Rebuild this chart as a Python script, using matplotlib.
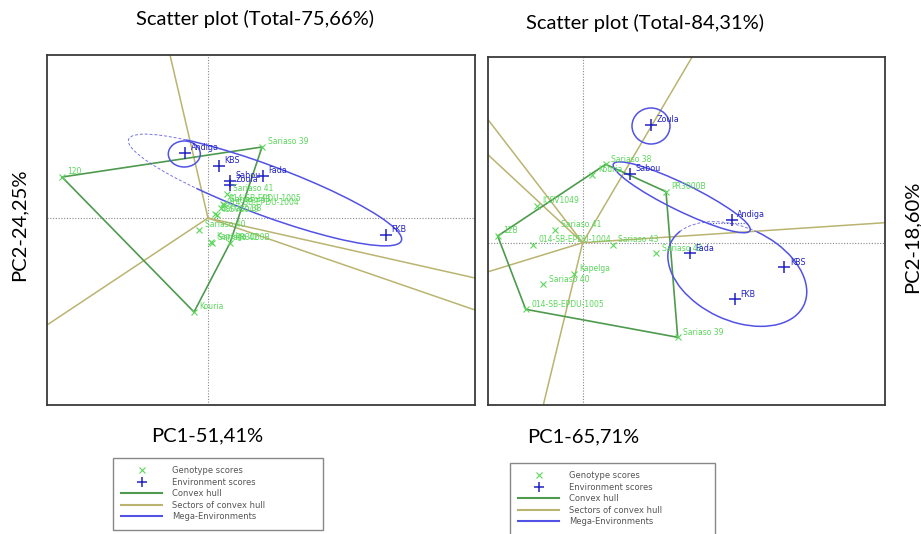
import matplotlib
matplotlib.use("Agg")
import matplotlib.pyplot as plt
from matplotlib.patches import Ellipse, Arc
from matplotlib.lines import Line2D

# Left biplot (Total 75,66%)
L_GEN_NAMES = ["120", "Sariaso 39", "PR3000B", "Kouria", "Sariaso 41", "014-SB-EPDU-1005",
               "Sariaso 43", "014-SB-EPDU-1004", "Sariaso 38", "ICSV1049", "Sariaso 40",
               "Kapelga", "Sariaso 42"]
L_GEN_PC1 = [-1.46, 0.54, 0.22, -0.14, 0.19, 0.15, 0.16, 0.13, 0.07, 0.09, -0.09, 0.03, 0.04]
L_GEN_PC2 = [0.41, 0.71, -0.25, -0.94, 0.24, 0.14, 0.13, 0.10, 0.04, 0.03, -0.12, -0.24, -0.25]
L_HULL = [0, 1, 2, 3]
L_ENV_NAMES = ["Andiga", "KBS", "Fada", "Sabou", "Zoula", "FKB"]
L_ENV_PC1 = [-0.23, 0.11, 0.55, 0.22, 0.22, 1.78]
L_ENV_PC2 = [0.65, 0.52, 0.42, 0.37, 0.33, -0.17]
L_SECTOR_ENDS = [(-0.38, 1.63), (-1.61, -1.07), (2.67, -0.60), (2.67, -0.92)]
# mega-environment ellipses: centre x, centre y, width, height, angle
L_MEGA = [(-0.237, 0.64, 0.32, 0.26, 0)]
L_MEGA_PARTIAL = [(0.57, 0.28, 2.91, 0.50, -20.4, 168, 199)]  # + dashed arc range

# Right biplot (Total 84,31%)
R_GEN_NAMES = ["12B", "Sariaso 38", "Kouria", "PR3000B", "ICSV1049", "Sariaso 41",
               "014-SB-EPDU-1004", "Sariaso 43", "Sariaso 42", "Kapelga", "Sariaso 40",
               "014-SB-EPDU-1005", "Sariaso 39"]
R_GEN_PC1 = [-0.85, 0.23, 0.096, 0.833, -0.46, -0.277, -0.50, 0.30, 0.733, -0.087, -0.394, -0.57, 0.95]
R_GEN_PC2 = [0.067, 0.784, 0.677, 0.51, 0.37, 0.127, -0.023, -0.023, -0.106, -0.313, -0.416, -0.666, -0.946]
R_HULL = [0, 1, 3, 12, 11]
R_ENV_NAMES = ["Zoula", "Sabou", "Andiga", "Fada", "KBS", "FKB"]
R_ENV_PC1 = [0.683, 0.473, 1.49, 1.073, 2.016, 1.523]
R_ENV_PC2 = [1.177, 0.687, 0.227, -0.106, -0.246, -0.566]
R_SECTOR_ENDS = [(1.106, 1.877), (-0.394, -1.623), (-0.944, 1.227), (-0.944, 0.877),
                 (-0.944, -0.29), (3.023, 0.20)]
R_MEGA = [(0.683, 1.167, 0.38, 0.36, 0), (0.99, 0.454, 1.52, 0.27, -26)]
R_MEGA_PARTIAL = [(1.546, -0.313, 1.47, 0.93, -25, 90, 168)]
R_MEGA_LINK = ([1.24, 1.656], [0.194, 0.194])

GEN_COLOR = "#5ad75a"
ENV_COLOR = "#2323c4"
HULL_COLOR = "#4e9a4e"
SECTOR_COLOR = "#bab470"
MEGA_COLOR = "#5252e4"

W, H = 921, 534


def draw_biplot(ax, gx, gy, gnames, hull, ex, ey, enames, sectors, mega, partial):
    ax.axhline(0, color="#888888", lw=0.8, ls=(0, (1, 1.5)), zorder=1)
    ax.axvline(0, color="#888888", lw=0.8, ls=(0, (1, 1.5)), zorder=1)

    # Sector rays from the origin
    for (sx, sy) in sectors:
        ax.plot([0, sx], [0, sy], color=SECTOR_COLOR, lw=1.1, zorder=2)

    # Convex hull
    hx = [gx[i] for i in hull] + [gx[hull[0]]]
    hy = [gy[i] for i in hull] + [gy[hull[0]]]
    ax.plot(hx, hy, color=HULL_COLOR, lw=1.2, zorder=3)

    # Mega-environments
    for (cx, cy, w, h, a) in mega:
        ax.add_patch(Ellipse((cx, cy), w, h, angle=a, fill=False, ec=MEGA_COLOR, lw=1.1, zorder=4))
    for (cx, cy, w, h, a, t1, t2) in partial:
        ax.add_patch(Arc((cx, cy), w, h, angle=a, theta1=t2, theta2=t1,
                         ec=MEGA_COLOR, lw=1.1, zorder=4))
        ax.add_patch(Arc((cx, cy), w, h, angle=a, theta1=t1, theta2=t2,
                         ec=MEGA_COLOR, lw=0.7, ls=(0, (3, 2)), alpha=0.8, zorder=4))

    # Genotype and environment scores
    ax.plot(gx, gy, ls="none", marker="x", ms=5, mew=0.8, color=GEN_COLOR, zorder=5)
    for x, y, n in zip(gx, gy, gnames):
        ax.annotate(n, (x, y), xytext=(4, 2), textcoords="offset points",
                    fontsize=5.5, color=GEN_COLOR, family="DejaVu Sans", zorder=6)
    ax.plot(ex, ey, ls="none", marker="+", ms=8, mew=1.1, color=ENV_COLOR, zorder=5)
    for x, y, n in zip(ex, ey, enames):
        ax.annotate(n, (x, y), xytext=(4, 2), textcoords="offset points",
                    fontsize=5.8, color=ENV_COLOR, family="DejaVu Sans", zorder=6)

    ax.set_xticks([])
    ax.set_yticks([])
    for s in ax.spines.values():
        s.set_color("#3a3a3a")
        s.set_linewidth(1.3)


fig = plt.figure(figsize=(W / 100, H / 100), dpi=100)
plt.rcParams["font.family"] = ["Lato", "DejaVu Sans"]

axl = fig.add_axes([47 / W, 1 - 405 / H, 428 / W, 350 / H])
axl.set_xlim(-1.61, 2.67)
axl.set_ylim(-1.87, 1.63)
draw_biplot(axl, L_GEN_PC1, L_GEN_PC2, L_GEN_NAMES, L_HULL, L_ENV_PC1, L_ENV_PC2,
            L_ENV_NAMES, L_SECTOR_ENDS, L_MEGA, L_MEGA_PARTIAL)

axr = fig.add_axes([488 / W, 1 - 405 / H, 397 / W, 348 / H])
axr.set_xlim(-0.947, 3.023)
axr.set_ylim(-1.623, 1.857)
draw_biplot(axr, R_GEN_PC1, R_GEN_PC2, R_GEN_NAMES, R_HULL, R_ENV_PC1, R_ENV_PC2,
            R_ENV_NAMES, R_SECTOR_ENDS, R_MEGA, R_MEGA_PARTIAL)
axr.plot(R_MEGA_LINK[0], R_MEGA_LINK[1], color=MEGA_COLOR, lw=0.8, ls=(0, (1, 1.5)), zorder=4)

# Titles and axis labels
fig.text(255 / W, 1 - 19 / H, "Scatter plot (Total-75,66%)", ha="center", va="center", fontsize=14.5)
fig.text(645 / W, 1 - 23 / H, "Scatter plot (Total-84,31%)", ha="center", va="center", fontsize=14.5)
fig.text(207 / W, 1 - 436 / H, "PC1-51,41%", ha="center", va="center", fontsize=14.5)
fig.text(583 / W, 1 - 437 / H, "PC1-65,71%", ha="center", va="center", fontsize=14.5)
fig.text(19 / W, 1 - 225 / H, "PC2-24,25%", ha="center", va="center", rotation=90, fontsize=14.5)
fig.text(912 / W, 1 - 237 / H, "PC2-18,60%", ha="center", va="center", rotation=90, fontsize=14.5)

# Legends
handles = [
    Line2D([], [], ls="none", marker="x", ms=4, mew=0.8, color=GEN_COLOR),
    Line2D([], [], ls="none", marker="+", ms=7, mew=1.1, color=ENV_COLOR),
    Line2D([], [], color=HULL_COLOR, lw=1.5),
    Line2D([], [], color=SECTOR_COLOR, lw=1.5),
    Line2D([], [], color=MEGA_COLOR, lw=1.5),
]
labels = ["Genotype scores", "Environment scores", "Convex hull",
          "Sectors of convex hull", "Mega-Environments"]
for (x0, y0, w) in [(113, 458, 210), (510, 463, 205)]:
    leg = fig.legend(handles, labels, loc="upper left",
                     bbox_to_anchor=(x0 / W, 1 - y0 / H - 0.1, w / W, 0.1),
                     mode="expand", borderaxespad=0, handlelength=4.9,
                     handletextpad=1.2, labelspacing=0.3, borderpad=1.0,
                     fancybox=False, edgecolor="#888888", framealpha=1,
                     prop={"family": "DejaVu Sans", "size": 6})
    leg.get_frame().set_linewidth(1.0)
    for t in leg.get_texts():
        t.set_color("#555555")

fig.savefig("out.png", dpi=100)
